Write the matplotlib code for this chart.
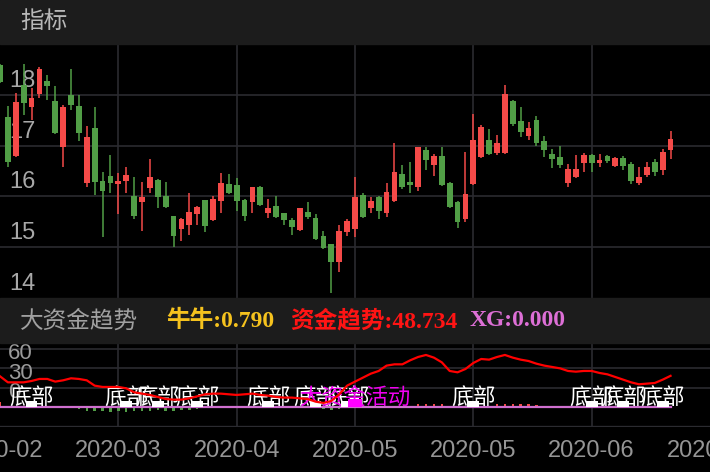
import numpy as np
import matplotlib.pyplot as plt
from matplotlib.transforms import offset_copy, blended_transform_factory

plt.rcParams['font.family'] = ['Liberation Sans', 'Noto Sans CJK SC', 'DejaVu Sans']

# daily candles
opens = [18.58, 17.56, 16.80, 18.19, 17.76, 18.02, 18.27, 17.88, 16.98, 18.00,
         17.78, 16.27, 17.35, 16.31, 16.41, 16.25, 16.31, 16.00, 15.88, 16.17,
         16.33, 16.00, 15.62, 15.35, 15.43, 15.66, 15.92, 15.53, 15.90, 16.25,
         16.23, 15.92, 15.88, 16.19, 15.68, 15.82, 15.68, 15.53, 15.33, 15.70,
         15.58, 15.23, 15.07, 14.70, 15.29, 15.35, 16.02, 15.78, 15.98, 15.68,
         15.90, 16.45, 16.29, 16.19, 16.92, 16.62, 16.80, 16.27, 15.88, 15.55,
         16.25, 16.78, 17.11, 16.86, 16.86, 17.88, 17.49, 17.19, 17.51, 17.09,
         16.84, 16.78, 16.27, 16.39, 16.66, 16.82, 16.66, 16.80, 16.60, 16.76,
         16.64, 16.27, 16.43, 16.68, 16.51, 16.92]
highs = [18.60, 17.78, 18.04, 18.60, 18.13, 18.55, 18.39, 18.17, 17.80, 18.51,
         18.00, 17.39, 17.76, 16.49, 16.82, 16.47, 16.58, 16.39, 16.29, 16.74,
         16.35, 16.29, 15.62, 15.58, 16.07, 15.82, 15.92, 16.00, 16.47, 16.45,
         16.37, 15.94, 16.19, 16.21, 15.94, 16.00, 15.68, 15.58, 15.78, 15.88,
         15.66, 15.31, 15.07, 15.43, 15.56, 16.39, 16.07, 15.98, 16.00, 16.27,
         17.06, 16.62, 16.68, 16.98, 16.98, 16.84, 16.98, 16.29, 15.90, 16.88,
         17.62, 17.41, 17.33, 17.21, 18.19, 17.90, 17.76, 17.47, 17.58, 17.19,
         16.94, 17.00, 16.64, 16.82, 16.86, 16.84, 16.84, 16.82, 16.78, 16.80,
         16.68, 16.58, 16.68, 16.74, 16.94, 17.29]
lows = [18.23, 16.58, 16.78, 17.60, 17.51, 17.94, 17.90, 17.23, 16.58, 17.70,
        17.09, 16.19, 16.02, 15.21, 16.07, 15.66, 16.06, 15.55, 15.31, 16.07,
        15.78, 15.78, 15.00, 15.13, 15.25, 15.43, 15.29, 15.51, 15.68, 16.04,
        15.72, 15.51, 15.68, 15.82, 15.58, 15.58, 15.43, 15.25, 15.31, 15.55,
        15.15, 14.96, 14.09, 14.51, 15.23, 15.21, 15.58, 15.68, 15.55, 15.60,
        15.88, 16.15, 16.07, 16.11, 16.51, 16.41, 16.21, 15.78, 15.37, 15.49,
        16.23, 16.76, 16.82, 16.82, 16.84, 17.39, 17.17, 17.11, 17.00, 16.78,
        16.55, 16.56, 16.19, 16.37, 16.49, 16.49, 16.58, 16.66, 16.58, 16.51,
        16.25, 16.23, 16.39, 16.41, 16.43, 16.74]
closes = [18.25, 16.68, 17.86, 17.84, 17.94, 18.51, 18.17, 17.25, 17.76, 17.80,
          17.25, 17.17, 16.29, 16.11, 16.27, 16.31, 16.43, 15.62, 15.98, 16.39,
          15.98, 15.80, 15.23, 15.56, 15.70, 15.80, 15.41, 15.94, 16.27, 16.07,
          15.90, 15.62, 16.19, 15.84, 15.78, 15.60, 15.53, 15.39, 15.78, 15.60,
          15.17, 14.98, 14.70, 15.31, 15.51, 15.98, 15.60, 15.90, 15.72, 16.09,
          16.49, 16.19, 16.23, 16.98, 16.72, 16.80, 16.23, 15.80, 15.49, 16.04,
          17.11, 17.37, 16.84, 17.06, 18.02, 17.43, 17.27, 17.35, 17.06, 16.92,
          16.74, 16.62, 16.53, 16.53, 16.82, 16.66, 16.72, 16.70, 16.76, 16.60,
          16.31, 16.39, 16.58, 16.49, 16.88, 17.13]

# 资金趋势 line and 牛牛 bars
trend = [48.0, 38.7, 38.7, 38.7, 40.8, 43.9, 43.9, 39.8, 41.8, 44.9,
         43.9, 41.8, 33.6, 31.6, 31.6, 31.6, 29.5, 23.4, 21.3, 19.3,
         16.2, 13.1, 12.1, 12.1, 14.1, 17.2, 20.3, 21.3, 21.3, 20.3,
         19.3, 20.3, 21.3, 19.3, 18.2, 16.2, 15.2, 15.2, 14.1, 13.1,
         9.0, 7.0, 10.0, 20.3, 33.6, 39.8, 45.9, 52.0, 56.2, 64.4,
         66.4, 66.4, 72.6, 77.7, 80.8, 76.7, 69.5, 56.2, 54.1, 59.2,
         68.5, 74.6, 73.6, 77.7, 80.8, 76.7, 73.6, 71.5, 67.4, 64.4,
         62.3, 60.2, 56.2, 55.1, 56.2, 56.2, 53.1, 51.0, 46.9, 42.8,
         38.7, 35.7, 36.7, 37.7, 42.8, 48.7]
niuniu = [8, 0, 0, 0, 0, 0, 0, 0, 0, 0,
          -2, -5, -6, -6, -7, -6, -7, -6, -5, -5,
          -4, -5, -5, -4, -4, -3, 0, 0, 0, 0,
          0, 0, 0, 0, 0, 0, 0, 0, 0, 0,
          0, -3, -4, -3, 0, 0, 0, 0, 0, 0,
          0, 0, 0, 6, 6, 5, 5, 0, 0, 0,
          0, 0, 0, 5, 6, 6, 5, 5, 4, 0,
          0, 0, 0, 0, 0, 0, 0, 0, 0, 0,
          0, 0, 0, 0, 0, 0]
xg = [0.0] * 86
bottom_idx = [4, 16, 20, 25, 34, 40, 44, 60, 75, 79, 84]
active_idx = [45]

price_ticks = [18, 17, 16, 15, 14]
ind_ticks = [60, 30, 0]
date_pos = [0, 15, 30, 45, 60, 75, 90]
date_labels = ['2020-02', '2020-03', '2020-04', '2020-05', '2020-05', '2020-06', '2020-06']

RED = '#f44a48'
GREEN = '#519e46'
GRID = '#2b2b30'

W, H = 710, 472
fig = plt.figure(figsize=(7.1, 4.72), dpi=100, facecolor='black')


def rect(top, bottom):
    return [0, 1 - bottom / H, 1, (bottom - top) / H]


for top, bottom in [(0, 44), (298, 343)]:
    fig.patches.append(plt.Rectangle((0, 1 - bottom / H), 1, (bottom - top) / H,
                                     transform=fig.transFigure, color='#1c1c1c', zorder=0))

fig.text(20 / W, 1 - 22 / H, '指标', fontsize=17, color='#b8b8b8', va='center')
fig.text(20 / W, 1 - 321 / H, '大资金趋势', fontsize=17, color='#a0a0a0', va='center')
serif = ['Liberation Serif', 'Noto Sans CJK SC']
fig.text(166 / W, 1 - 321 / H, '牛牛:0.790', fontsize=17, color='#f5c21e',
         family=serif, weight='bold', va='center')
fig.text(290 / W, 1 - 321 / H, '资金趋势:48.734', fontsize=17, color='#ff1414',
         family=serif, weight='bold', va='center')
fig.text(470 / W, 1 - 321 / H, 'XG:0.000', fontsize=17, color='#dd6fd6',
         family=serif, weight='bold', va='center')

# price panel
ax = fig.add_axes(rect(44, 298))
ax.set_facecolor('black')
ax.set_xlim(0, 90)
ax.set_ylim(14, 19)
ax.axis('off')
for p in [15, 16, 17, 18]:
    ax.axhline(p, color=GRID, lw=1.2, zorder=0)
for v in date_pos[1:-1]:
    ax.axvline(v, color=GRID, lw=1.2, zorder=0)

x = np.arange(len(opens))
o, h, l, c = map(np.array, (opens, highs, lows, closes))
cols = np.where(c >= o, RED, GREEN)
ax.vlines(x, l, h, colors=cols, lw=1.1, zorder=3)
ax.bar(x, np.maximum(np.abs(c - o), 0.02), bottom=np.minimum(o, c), width=0.72,
       color=cols, zorder=3)

lab = offset_copy(ax.transData, fig=fig, y=8, units='dots')
for p in price_ticks:
    ax.text(1.15, p, str(p), transform=lab, fontsize=17, color='#a8a8a8',
            va='baseline', zorder=1)

# indicator panel
ax2 = fig.add_axes(rect(343, 427))
ax2.set_facecolor('black')
ax2.set_xlim(0, 90)
ax2.set_ylim(-30, 99.2)
ax2.axis('off')
for v in [30, 60, 90]:
    ax2.axhline(v, color=GRID, lw=1.2, zorder=0)
ax2.axhline(-30, color=GRID, lw=2.4, zorder=0)
for v in date_pos[1:-1]:
    ax2.axvline(v, color=GRID, lw=1.2, zorder=0)

lab2 = offset_copy(ax2.transData, fig=fig, y=9, units='dots')
for v in ind_ticks:
    ax2.text(1.0, v, str(v), transform=lab2, fontsize=16, color='#9a9a9a',
             va='baseline', zorder=1)

nn = np.array(niuniu)
ax2.bar(x, nn, width=0.3, color=np.where(nn > 0, RED, GREEN), zorder=2)
ax2.plot(x, xg, color='#cf6fcf', lw=1.6, zorder=2)

for i in bottom_idx:
    ax2.text(i, 4, '底部', ha='center', va='baseline', fontsize=16,
             color='white', zorder=3)
ax2.bar(bottom_idx, 10, width=1.5, color='white', zorder=4)
for i in active_idx:
    ax2.text(i, 4, '大资金活动', ha='center', va='baseline', fontsize=16,
             color='#f000f0', zorder=3)
ax2.bar(active_idx, 13, width=1.8, color='#ff00ff', zorder=4)

ax2.plot(x, trend, color='#ff0000', lw=1.6, zorder=5)

tr = blended_transform_factory(ax2.transData, fig.transFigure)
for pos, txt in zip(date_pos, date_labels):
    ax2.text(pos, 1 - 457 / H, txt, transform=tr, ha='center', va='baseline',
             fontsize=17, color='#959595', clip_on=False)

fig.savefig('out.png', dpi=100, facecolor='black')
